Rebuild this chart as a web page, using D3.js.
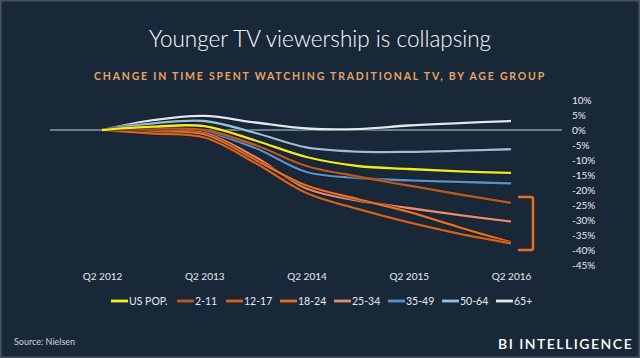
<!DOCTYPE html>
<html>
<head>
<meta charset="utf-8">
<script src="https://cdn.jsdelivr.net/npm/d3@7/dist/d3.min.js"></script>
<style>
  html, body { margin: 0; padding: 0; background: #192838; }
  svg { display: block; }
</style>
</head>
<body>
<svg id="chart" width="640" height="358"></svg>
<script>
// ---- data ----
const periods = ["Q2 2012","Q4 2012","Q2 2013","Q4 2013","Q2 2014","Q4 2014","Q2 2015","Q4 2015","Q2 2016"];
const xTickLabels = ["Q2 2012","Q2 2013","Q2 2014","Q2 2015","Q2 2016"];
const yTicks = [10,5,0,-5,-10,-15,-20,-25,-30,-35,-40,-45];
const seriesNames = ["US POP.","2-11","12-17","18-24","25-34","35-49","50-64","65+"];
const usPop  = [0, 1.1, 1.3, -3.5, -9.0, -12.0, -13.0, -13.8, -14.3];
const age2_11  = [0, 0.5, 0.0, -5.0, -12.0, -15.5, -18.5, -21.5, -24.3];
const age12_17 = [0, -1.2, -2.5, -11.0, -21.0, -26.3, -30.8, -34.6, -37.8];
const age18_24 = [0, -0.8, -1.5, -10.0, -18.5, -23.0, -27.3, -32.5, -37.4];
const age25_34 = [0, -0.5, -1.0, -9.0, -19.5, -23.5, -26.0, -28.4, -30.5];
const age35_49 = [0, 0.0, -0.5, -6.0, -14.0, -16.0, -16.8, -17.3, -17.8];
const age50_64 = [0, 2.2, 3.0, -1.0, -5.8, -7.2, -7.3, -6.9, -6.4];
const age65p   = [0, 3.3, 4.7, 2.5, 0.5, 0.3, 1.5, 2.3, 3.0];
const colors = ["#f2ec1f","#bd571f","#d4621c","#e96f1e","#ea8a6c","#5d90c6","#9fbbd8","#dfe8f1"];

const seriesValues = [usPop, age2_11, age12_17, age18_24, age25_34, age35_49, age50_64, age65p];

// ---- drawing ----
const svg = d3.select("#chart");
const W = 640, H = 358;

svg.append("rect").attr("x",0.75).attr("y",0.75).attr("width",W-1.5).attr("height",H-1.5)
  .attr("fill","#192838").attr("stroke","#4a525b").attr("stroke-width",1.5);

svg.append("text").attr("x",320).attr("y",47).attr("text-anchor","middle")
  .attr("font-family","Lato").attr("font-weight",300).attr("font-size",22.5)
  .attr("fill","#ffffff").text("Younger TV viewership is collapsing");

svg.append("text").attr("x",320).attr("y",80).attr("text-anchor","middle")
  .attr("font-family","Lato").attr("font-weight",700).attr("font-size",10.5)
  .attr("letter-spacing",1.8).attr("fill","#e9a266")
  .text("CHANGE IN TIME SPENT WATCHING TRADITIONAL TV, BY AGE GROUP");

const x = d3.scalePoint().domain(periods).range([102, 511]);
const y = d3.scaleLinear().domain([-45, 10]).range([265, 100]);

// zero line
svg.append("line").attr("x1",50).attr("x2",562).attr("y1",y(0)).attr("y2",y(0))
  .attr("stroke","#c9d1da").attr("stroke-width",1);

// y axis labels
const yAxis = d3.axisRight(y).tickValues(yTicks).tickFormat(d => d + "%").tickSize(0).tickPadding(0);
const gy = svg.append("g").attr("transform","translate(572,0)").call(yAxis);
gy.select(".domain").remove();
gy.selectAll("text").attr("font-family","Lato").attr("font-size",10).attr("fill","#e6ebf0");

// x axis labels
const xAxis = d3.axisBottom(x).tickValues(xTickLabels).tickSize(0).tickPadding(0);
const gx = svg.append("g").attr("transform","translate(0,273)").call(xAxis);
gx.select(".domain").remove();
gx.selectAll("text").attr("font-family","Lato").attr("font-size",10).attr("fill","#e6ebf0");

const line = d3.line().x((d,i) => x(periods[i])).y(d => y(d)).curve(d3.curveCatmullRom.alpha(0.5));

const drawOrder = [7,6,5,4,3,2,1,0];
drawOrder.forEach(si => {
  svg.append("path").datum(seriesValues[si]).attr("d", line)
    .attr("fill","none").attr("stroke","#0f1822").attr("stroke-opacity",0.6).attr("stroke-width",3.6);
  svg.append("path").datum(seriesValues[si]).attr("d", line)
    .attr("fill","none").attr("stroke",colors[si]).attr("stroke-width",2.3);
});

// bracket
const bx0 = x(periods[periods.length-1]) + 7, bx1 = bx0 + 15;
svg.append("path")
  .attr("d", `M${bx0},${y(-22.3)} H${bx1-2} Q${bx1},${y(-22.3)} ${bx1},${y(-22.3)+2} V${y(-40)-2} Q${bx1},${y(-40)} ${bx1-2},${y(-40)} H${bx0}`)
  .attr("fill","none").attr("stroke","#e9701e").attr("stroke-width",2.5);

// legend
const legendX = [111,177,226,280,334,388,442,496];
seriesNames.forEach((n, i) => {
  const g = svg.append("g").attr("transform",`translate(${legendX[i]},301)`);
  g.append("line").attr("x1",0).attr("x2",17).attr("y1",0).attr("y2",0)
    .attr("stroke",colors[i]).attr("stroke-width",2.8);
  g.append("text").attr("x",18).attr("y",3.7).attr("font-family","Lato").attr("font-size",10.5)
    .attr("fill","#e6ebf0").text(n);
});

svg.append("text").attr("x",14).attr("y",345).attr("font-family","Lato").attr("font-size",9)
  .attr("fill","#d0d6dc").text("Source: Nielsen");

svg.append("text").attr("x",498).attr("y",349)
  .attr("font-family","Lato").attr("font-weight",600).attr("font-size",14)
  .attr("letter-spacing",1.5).attr("fill","#ffffff").text("BI INTELLIGENCE");
</script>
</body>
</html>
